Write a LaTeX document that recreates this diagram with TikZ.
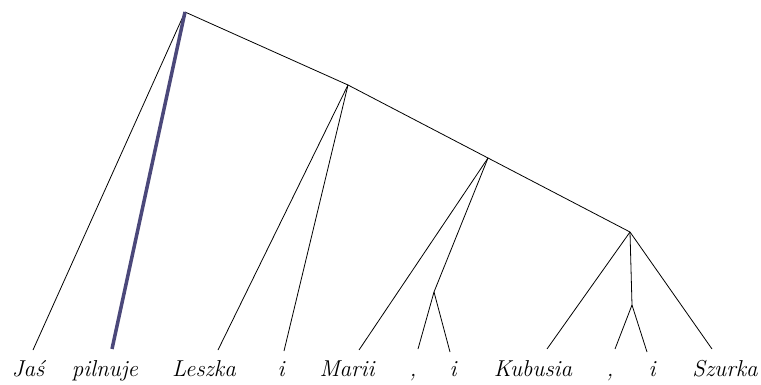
\documentclass[tikz,border=0pt]{standalone}
\begin{document}
\begin{tikzpicture}[x=1pt,y=-1pt,
  edge/.style={draw=black,line width=0.8pt},
  headedge/.style={draw=headcol,line width=3.5pt},
  word/.style={anchor=base,inner sep=0pt,font=\fontsize{23}{27}\selectfont\itshape}]
\definecolor{headcol}{RGB}{75,72,122}
\useasboundingbox (0,0) rectangle (761,385);
% internal nodes
\coordinate (r) at (185,12);
\coordinate (n1) at (348,85);
\coordinate (n2) at (488,158);
\coordinate (n3) at (434,292);
\coordinate (n4) at (630,232);
\coordinate (n5) at (632,305);
% leaf attachment points
\coordinate (l1) at (33,350);
\coordinate (l2) at (112,349);
\coordinate (l3) at (218,350);
\coordinate (l4) at (284,351);
\coordinate (l5) at (359,350);
\coordinate (l6) at (418,349);
\coordinate (l7) at (450,352);
\coordinate (l8) at (547,349);
\coordinate (l9) at (615,349);
\coordinate (l10) at (647,352);
\coordinate (l11) at (712,349);
% words
\node[word] (w1) at (28,376) {Jaś};
\node[word] (w2) at (105,376) {pilnuje};
\node[word] (w3) at (204,376) {Leszka};
\node[word] (w4) at (281,376) {i};
\node[word] (w5) at (347,376) {Marii};
\node[word] (w6) at (413,376) {,};
\node[word] (w7) at (453,376) {i};
\node[word] (w8) at (533,376) {Kubusia};
\node[word] (w9) at (610,376) {,};
\node[word] (w10) at (652,376) {i};
\node[word] (w11) at (725,376) {Szurka};
% edges
\draw[edge] (r) -- (l1);
\draw[edge] (r) -- (n1);
\draw[edge] (n1) -- (l3);
\draw[edge] (n1) -- (l4);
\draw[edge] (n1) -- (n2);
\draw[edge] (n2) -- (l5);
\draw[edge] (n2) -- (n3);
\draw[edge] (n3) -- (l6);
\draw[edge] (n3) -- (l7);
\draw[edge] (n2) -- (n4);
\draw[edge] (n4) -- (l8);
\draw[edge] (n4) -- (n5);
\draw[edge] (n5) -- (l9);
\draw[edge] (n5) -- (l10);
\draw[edge] (n4) -- (l11);
\draw[headedge] (r) -- (l2);
\end{tikzpicture}
\end{document}
